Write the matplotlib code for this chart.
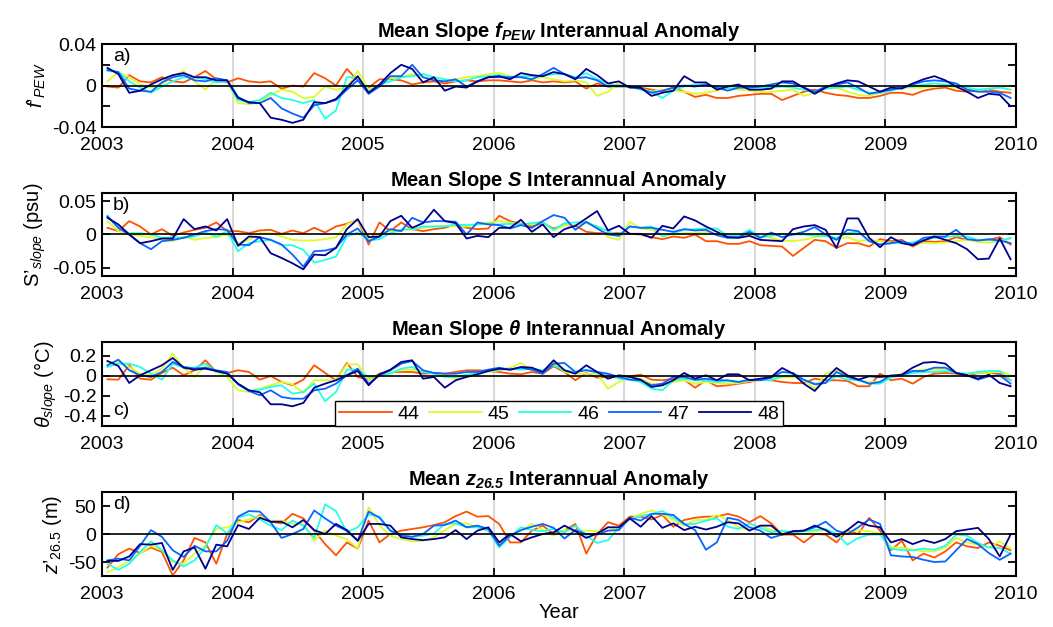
import numpy as np
import matplotlib as mpl
mpl.use('Agg')
import matplotlib.pyplot as plt

mpl.rcParams['font.family'] = ['Liberation Sans', 'DejaVu Sans']
mpl.rcParams['font.size'] = 14
mpl.rcParams['mathtext.fontset'] = 'custom'
mpl.rcParams['mathtext.rm'] = 'Liberation Sans'
mpl.rcParams['mathtext.it'] = 'Liberation Sans:italic'
mpl.rcParams['mathtext.bf'] = 'Liberation Sans:bold'
mpl.rcParams['mathtext.bfit'] = 'Liberation Sans:bold:italic'

# monthly time axis, Jan 2003 - Dec 2009 (mid-month)
months = 2003 + (np.arange(84) + 0.5) / 12.0

series_names = ['44', '45', '46', '47', '48']
colors = ['#FF5200', '#DDFA2A', '#22FFE6', '#0A64FF', '#00008C']

# ---- a) f_PEW ----
fpew_44 = [-0.001,-0.002,0.010,0.004,0.003,0.008,0.004,0.003,0.008,0.014,0.006,0.003,
           0.007,0.004,0.003,0.004,-0.003,0.000,-0.001,0.012,0.007,0.000,0.016,0.005,
           -0.002,0.006,0.006,0.005,0.001,0.003,0.004,0.002,0.004,0.005,0.004,0.005,
           0.005,0.004,0.003,0.005,0.003,0.004,0.003,0.004,-0.003,0.002,-0.001,-0.001,
           -0.001,-0.002,-0.004,-0.006,-0.002,-0.006,-0.011,-0.009,-0.012,-0.012,-0.010,-0.009,
           -0.008,-0.008,-0.014,-0.010,-0.006,-0.004,-0.007,-0.009,-0.010,-0.012,-0.012,-0.010,
           -0.007,-0.007,-0.009,-0.005,-0.003,-0.002,-0.005,-0.006,-0.005,-0.004,-0.006,-0.007]
fpew_45 = [0.004,0.013,0.008,0.001,-0.002,0.001,0.009,0.014,0.004,-0.004,0.006,0.004,
           -0.017,-0.018,-0.016,-0.009,-0.004,-0.006,-0.012,-0.011,-0.001,-0.004,-0.002,0.014,
           -0.004,0.001,0.007,0.008,0.011,0.008,0.006,0.004,0.006,0.008,0.009,0.011,
           0.012,0.009,0.008,0.006,0.008,0.006,0.004,0.005,0.003,-0.010,-0.006,0.003,
           -0.002,-0.003,-0.006,-0.004,-0.005,-0.006,-0.008,-0.007,-0.005,-0.002,-0.004,-0.005,
           -0.006,-0.006,-0.005,-0.004,-0.010,-0.007,-0.003,-0.002,-0.006,-0.009,-0.010,-0.007,
           -0.005,-0.002,-0.002,-0.002,-0.001,0.000,-0.002,-0.004,-0.005,-0.003,-0.002,0.000]
fpew_46 = [0.014,0.013,0.004,-0.002,-0.007,-0.001,0.004,0.008,0.008,0.006,0.003,0.004,
           -0.014,-0.016,-0.014,-0.007,-0.012,-0.014,-0.017,-0.014,-0.032,-0.024,0.008,0.008,
           -0.006,0.001,0.004,0.008,0.009,0.011,0.008,0.006,0.004,0.005,0.008,0.009,
           0.010,0.008,0.009,0.009,0.009,0.011,0.011,0.008,0.012,0.006,0.002,-0.001,
           -0.001,-0.004,-0.006,-0.012,-0.005,-0.001,0.001,0.001,-0.001,-0.003,-0.002,-0.002,
           -0.002,-0.002,-0.001,-0.002,-0.004,-0.006,-0.003,-0.002,-0.001,-0.004,-0.007,-0.007,
           -0.005,-0.002,-0.001,0.001,0.002,0.001,0.000,-0.002,-0.004,-0.003,-0.002,-0.004]
fpew_47 = [0.015,0.013,-0.003,-0.005,-0.006,0.003,0.008,0.010,0.005,0.004,0.007,0.005,
           -0.011,-0.017,-0.017,-0.012,-0.022,-0.027,-0.031,-0.019,-0.017,-0.014,-0.004,0.005,
           -0.008,-0.001,0.009,0.009,0.020,0.008,0.005,0.004,0.006,-0.001,0.004,0.008,
           0.008,0.008,0.008,0.006,0.011,0.017,0.011,0.007,0.008,0.005,-0.001,0.000,
           -0.001,-0.003,-0.007,-0.005,-0.002,0.000,-0.001,0.001,-0.002,-0.005,-0.002,-0.002,
           -0.001,0.001,0.003,0.002,-0.002,-0.006,-0.001,0.001,0.003,-0.002,-0.008,-0.006,
           -0.004,-0.002,0.001,0.004,0.005,0.004,0.002,-0.004,-0.006,-0.006,-0.007,-0.012]
fpew_48 = [0.017,0.011,-0.007,-0.005,0.001,0.006,0.010,0.012,0.008,0.008,0.005,0.005,
           -0.012,-0.016,-0.017,-0.031,-0.033,-0.036,-0.033,-0.016,-0.017,-0.013,-0.002,0.009,
           -0.007,0.001,0.012,0.020,0.016,0.003,0.008,-0.005,-0.001,-0.002,0.004,0.008,
           0.009,0.006,0.012,0.010,0.009,0.013,0.011,0.006,0.016,0.010,0.002,0.004,
           -0.002,-0.002,-0.010,-0.007,-0.005,0.009,0.003,0.003,-0.004,-0.001,0.001,-0.004,
           -0.004,-0.003,0.004,0.004,-0.002,-0.008,-0.002,0.002,0.005,0.004,-0.001,-0.006,
           -0.002,-0.003,0.002,0.006,0.009,0.005,-0.001,-0.006,-0.012,-0.008,-0.009,-0.020]

# ---- b) S_slope (psu) ----
sal_44 = [0.010,0.005,0.020,0.012,0.000,0.008,-0.002,0.003,0.007,0.010,0.018,0.005,
          0.005,0.002,0.006,0.007,0.001,0.006,0.002,0.010,0.003,0.012,0.016,0.022,
          -0.015,0.018,0.005,0.018,0.008,0.005,0.008,0.010,0.015,0.010,0.008,0.009,
          0.028,0.020,0.016,0.012,0.017,0.009,0.014,0.013,0.004,0.002,0.002,0.002,
          0.001,0.000,-0.004,-0.007,-0.003,-0.005,0.000,-0.010,-0.010,-0.014,-0.014,-0.010,
          -0.016,-0.017,-0.018,-0.032,-0.020,-0.008,-0.010,-0.020,-0.013,-0.013,-0.018,-0.007,
          -0.010,-0.008,-0.018,-0.010,-0.011,-0.010,-0.004,-0.008,-0.009,-0.008,-0.004,-0.015]
sal_45 = [0.020,0.005,0.000,-0.002,-0.004,-0.008,-0.010,-0.003,-0.008,-0.005,-0.004,0.000,
          -0.013,-0.008,0.002,0.002,-0.003,-0.008,-0.009,-0.009,-0.007,-0.004,0.015,0.022,
          -0.008,0.002,0.005,0.007,0.008,0.010,0.012,0.013,0.012,0.012,0.015,0.018,
          0.020,0.018,0.015,0.015,0.018,0.006,0.014,0.014,0.017,0.012,-0.004,-0.008,
          0.019,0.009,0.007,0.000,0.000,0.002,0.002,0.004,0.000,-0.003,-0.005,0.000,
          -0.003,-0.005,-0.009,-0.010,-0.008,-0.004,-0.002,-0.007,-0.004,-0.010,-0.008,-0.010,
          -0.012,-0.013,-0.013,-0.013,-0.013,-0.012,-0.010,-0.008,-0.011,-0.012,-0.010,-0.006]
sal_46 = [0.028,0.010,0.002,0.002,0.000,-0.005,-0.004,-0.005,-0.003,0.003,-0.003,0.005,
          -0.025,-0.013,-0.010,-0.008,-0.016,-0.016,-0.023,-0.042,-0.038,-0.033,-0.003,0.003,
          -0.009,-0.007,0.002,0.007,0.008,0.012,0.012,0.012,0.015,0.014,0.015,0.016,
          0.015,0.016,0.015,0.017,0.019,0.007,0.017,0.018,0.018,0.012,0.005,-0.001,
          0.012,0.010,0.012,-0.003,0.002,0.007,0.008,0.009,0.009,-0.002,-0.002,0.007,
          -0.004,-0.002,0.001,0.000,0.000,-0.002,-0.002,-0.005,0.002,0.004,-0.010,-0.015,
          -0.013,-0.013,-0.012,-0.008,-0.005,-0.004,-0.002,-0.003,-0.008,-0.008,-0.010,-0.005]
sal_47 = [0.027,0.010,0.000,-0.013,-0.022,-0.010,-0.008,-0.005,0.000,0.005,0.008,0.007,
          -0.015,-0.016,-0.004,-0.008,-0.015,-0.030,-0.048,-0.025,-0.024,-0.020,0.000,0.009,
          -0.010,-0.003,0.008,0.005,0.025,0.018,0.020,0.020,0.019,0.000,0.018,0.015,
          0.014,0.009,0.014,0.010,0.020,0.029,0.025,0.007,0.019,0.009,0.000,-0.002,
          0.012,0.010,0.010,0.007,0.004,0.008,0.006,0.007,-0.001,-0.005,-0.004,0.004,
          -0.005,0.003,-0.004,0.000,0.004,0.011,0.000,-0.008,0.007,0.005,-0.010,-0.015,
          -0.013,-0.010,-0.015,-0.005,-0.003,-0.003,0.007,-0.007,-0.009,-0.007,-0.009,-0.013]
sal_48 = [0.025,0.015,0.000,-0.013,-0.010,-0.006,-0.006,0.023,0.008,0.012,0.006,0.023,
          -0.017,-0.003,-0.004,-0.028,-0.035,-0.043,-0.052,-0.030,-0.031,-0.020,0.008,0.023,
          -0.004,-0.003,0.020,0.028,0.010,0.017,0.037,0.020,0.017,-0.006,-0.002,-0.004,
          0.010,0.010,0.022,0.004,0.015,-0.004,0.008,0.013,0.024,0.035,0.006,0.013,
          0.001,0.001,-0.005,0.013,0.009,0.027,0.021,0.012,0.004,-0.004,-0.005,-0.002,
          -0.008,-0.009,-0.010,0.008,0.012,0.014,0.007,-0.020,0.024,0.024,-0.005,-0.019,
          -0.004,-0.013,-0.016,-0.009,-0.003,-0.008,-0.013,-0.022,-0.037,-0.036,-0.006,-0.037]

# ---- c) theta_slope (degC) ----
theta_44 = [-0.033,-0.037,0.107,-0.027,-0.037,0.030,0.083,0.007,0.057,0.157,0.040,0.030,
            0.057,0.040,-0.037,0.000,-0.060,-0.093,-0.037,0.107,0.030,-0.043,0.130,-0.010,
            -0.037,0.023,0.040,0.040,0.040,0.023,0.030,0.023,0.040,0.057,0.057,0.050,
            0.040,0.023,0.017,0.040,0.023,0.097,0.040,-0.043,0.030,-0.017,-0.010,-0.003,
            -0.003,0.013,-0.037,-0.043,-0.027,-0.037,-0.117,-0.043,-0.103,-0.093,-0.077,-0.060,
            -0.037,-0.043,-0.060,-0.070,-0.070,-0.027,-0.043,-0.043,-0.050,-0.103,-0.103,0.023,
            -0.043,-0.027,-0.077,-0.010,0.023,0.030,0.023,-0.003,0.030,0.030,0.023,-0.043]
theta_45 = [0.140,0.140,0.090,0.023,0.007,0.073,0.223,0.083,-0.010,0.097,0.040,-0.010,
            -0.143,-0.160,-0.127,-0.093,-0.060,-0.083,-0.170,-0.043,-0.043,-0.043,0.117,0.117,
            -0.037,-0.003,0.040,0.057,0.063,0.050,0.023,0.007,-0.027,0.007,0.030,0.040,
            0.057,0.083,0.130,0.057,0.040,0.140,0.040,0.023,0.023,0.023,-0.127,-0.060,
            -0.010,-0.027,-0.077,-0.093,-0.060,-0.043,-0.077,-0.060,-0.070,-0.077,-0.070,-0.050,
            -0.043,-0.027,-0.017,-0.010,-0.043,-0.127,0.023,0.057,-0.010,-0.043,-0.060,-0.060,
            -0.010,0.023,0.050,0.063,0.063,0.073,0.030,0.023,0.030,0.030,0.050,0.007]
theta_46 = [0.090,0.123,0.123,0.090,0.023,-0.037,0.123,0.083,0.083,0.123,0.040,0.030,
            -0.083,-0.150,-0.137,-0.110,-0.093,-0.177,-0.160,-0.077,-0.253,-0.160,0.063,0.063,
            -0.010,0.007,0.023,0.073,0.090,0.040,0.023,-0.010,-0.010,0.013,0.030,0.050,
            0.063,0.073,0.063,0.073,0.057,0.107,0.057,0.040,0.063,0.030,0.007,-0.027,
            -0.037,-0.060,-0.127,-0.143,-0.043,-0.027,-0.043,-0.043,-0.060,-0.050,-0.060,-0.043,
            -0.037,-0.043,-0.003,0.007,-0.043,-0.077,-0.070,-0.003,-0.037,-0.043,-0.077,-0.077,
            -0.017,0.007,0.030,0.040,0.040,0.050,0.030,0.023,0.040,0.050,0.050,-0.043]
theta_47 = [0.107,0.163,0.057,0.007,-0.010,0.040,0.140,0.090,0.073,0.083,0.057,0.040,
            -0.083,-0.150,-0.193,-0.143,-0.210,-0.227,-0.227,-0.143,-0.127,-0.077,0.007,0.073,
            -0.077,0.007,0.057,0.123,0.150,0.057,0.030,0.023,0.023,0.040,0.040,0.063,
            0.083,0.063,0.083,0.063,0.023,0.123,0.130,0.040,0.057,0.040,0.023,-0.010,
            -0.037,-0.043,-0.093,-0.077,-0.010,-0.010,-0.037,-0.027,-0.043,-0.043,-0.060,-0.037,
            -0.043,-0.017,0.040,0.030,-0.037,-0.083,-0.070,0.040,-0.010,-0.037,-0.077,-0.060,
            0.007,0.007,0.050,0.050,0.083,0.083,0.030,0.007,-0.037,-0.003,0.007,-0.077]
theta_48 = [0.150,0.100,-0.070,0.007,0.057,0.107,0.180,0.083,0.063,0.073,0.050,0.023,
            -0.077,-0.143,-0.163,-0.283,-0.283,-0.303,-0.270,-0.117,-0.077,-0.043,0.007,0.050,
            -0.093,0.017,0.063,0.140,0.157,-0.027,-0.010,-0.117,-0.043,-0.010,0.017,0.050,
            0.073,0.063,0.090,0.083,0.040,0.157,0.057,0.023,0.107,0.040,-0.027,0.007,
            -0.010,-0.037,-0.110,-0.093,-0.043,0.030,-0.027,0.007,-0.043,0.017,0.017,-0.043,
            -0.027,-0.010,0.080,0.023,-0.077,-0.150,-0.027,0.080,0.007,-0.037,-0.003,-0.010,
            0.000,0.013,0.083,0.133,0.140,0.123,0.030,0.007,-0.027,0.013,-0.070,-0.103]

# ---- d) z26.5 (m) ----
z_44 = [-60,-36,-26,-34,-24,-32,-74,-47,-7,-15,-53,0,
        25,21,34,22,19,36,28,6,-18,-38,-15,-26,
        24,-15,0,6,9,12,16,21,32,40,31,32,
        18,-15,-15,6,15,0,6,18,-35,0,21,15,
        31,31,26,34,13,25,29,31,31,36,31,21,
        32,19,-1,-1,-15,0,-1,-15,6,0,29,6,
        -29,-12,-47,-35,-42,-31,-15,-22,-25,-15,-21,-29]
z_45 = [-68,-59,-47,-35,-21,-29,-50,-53,-35,-21,9,12,
        21,26,32,24,24,18,19,-12,6,-3,-9,-26,
        48,15,-3,-9,-13,-12,-6,7,18,19,12,6,
        -18,-3,6,18,7,-3,7,6,6,5,6,12,
        26,36,42,35,25,15,25,25,34,25,12,7,
        15,7,3,3,0,5,7,0,3,7,5,1,
        -24,-24,-28,-31,-31,-24,-7,-15,-19,-24,-13,-26]
z_46 = [-53,-64,-53,-32,-13,-29,-47,-58,-47,-24,16,1,
        29,35,26,15,7,24,15,-7,53,41,3,12,
        35,31,6,-1,-5,-3,1,18,19,12,12,6,
        -24,-5,12,7,5,9,3,15,-3,-16,-11,11,
        26,32,36,41,29,18,18,24,28,13,9,19,
        11,3,6,3,5,7,9,0,-19,-7,-1,-1,
        -26,-29,-29,-26,-28,-21,-1,-3,-16,-24,-25,-35]
z_47 = [-47,-44,-47,-21,7,-5,-29,-41,-21,-31,-31,-12,
        31,41,40,21,-7,0,9,42,28,15,6,-12,
        40,29,6,-3,-5,0,15,16,24,12,15,9,
        -21,-3,7,13,18,11,-8,7,0,-1,6,7,
        29,24,36,36,34,18,7,-28,-15,29,25,12,
        6,-7,-1,5,6,12,22,6,0,12,26,18,
        -38,-40,-41,-46,-50,-49,-29,-9,-18,-34,-46,-35]
z_48 = [-48,-48,-40,-18,-19,-16,-64,-31,-24,-62,-19,-22,
        16,9,29,22,22,12,25,7,0,18,7,-12,
        18,18,15,-6,-9,-11,-9,-6,7,-9,6,12,
        -15,0,-13,-6,0,3,15,5,-7,1,12,12,
        28,13,32,11,19,7,13,8,13,21,19,6,
        15,15,-1,5,6,15,7,-5,7,22,15,12,
        -15,-9,-18,-11,-16,-9,5,8,11,-9,-40,-1]

panels = [
    ([fpew_44, fpew_45, fpew_46, fpew_47, fpew_48],
     r'Mean Slope $\mathbfit{f}_{\mathbfit{PEW}}$ Interannual Anomaly',
     r"$f$’$_{PEW}$", 'a)', (-0.04, 0.04),
     [-0.04, -0.02, 0, 0.02, 0.04], ['-0.04', '', '0', '', '0.04']),
    ([sal_44, sal_45, sal_46, sal_47, sal_48],
     r'Mean Slope $\mathbfit{S}$ Interannual Anomaly',
     r"S’$_{slope}$ (psu)", 'b)', (-0.062, 0.062),
     [-0.05, 0, 0.05], ['-0.05', '0', '0.05']),
    ([theta_44, theta_45, theta_46, theta_47, theta_48],
     r'Mean Slope $\mathbfit{\theta}$ Interannual Anomaly',
     r'$\theta_{slope}$ (°C)', 'c)', (-0.5, 0.34),
     [-0.4, -0.2, 0, 0.2], ['-0.4', '-0.2', '0', '0.2']),
    ([z_44, z_45, z_46, z_47, z_48],
     r'Mean $\mathbfit{z}_{\mathbfit{26.5}}$ Interannual Anomaly',
     r"$z$’$_{26.5}$ (m)", 'd)', (-75, 75),
     [-50, 0, 50], ['-50', '0', '50']),
]

fig = plt.figure(figsize=(10.53, 6.27), dpi=100)
bottoms = [0.7974, 0.5598, 0.3206, 0.0813]
heights = [0.1324, 0.1324, 0.134, 0.134]
years = np.arange(2003, 2011)

for i, (data, title, ylab, letter, ylim, yt, ytl) in enumerate(panels):
    ax = fig.add_axes([0.0969, bottoms[i], 0.868, heights[i]])
    for x in years[1:-1]:
        ax.axvline(x, color='#d9d9d9', lw=1.5, zorder=0)
    lines = []
    for k in range(5):
        l, = ax.plot(months, data[k], color=colors[k], lw=1.3, label=series_names[k])
        lines.append(l)
    ax.axhline(0, color='k', lw=1.2, zorder=3)
    ax.set_xlim(2003, 2010)
    ax.set_ylim(ylim)
    ax.set_xticks(years)
    ax.set_yticks(yt)
    ax.set_yticklabels(ytl)
    ax.tick_params(direction='in', top=True, right=True, length=6, width=1.3,
                   labelsize=14, pad=4)
    ax.tick_params(axis='x', pad=7)
    for s in ax.spines.values():
        s.set_linewidth(1.5)
    ax.set_title(title, fontsize=14.5, fontweight='bold', pad=5)
    ax.set_ylabel(ylab, fontsize=14.5, labelpad=3)
    if letter == 'c)':
        ax.text(0.012, 0.08, letter, transform=ax.transAxes, fontsize=14, va='bottom')
        ax.legend(lines, series_names, loc='lower center', bbox_to_anchor=(0.5, -0.005),
                  ncol=5, fontsize=14, frameon=True, fancybox=False, edgecolor='k',
                  framealpha=1, handlelength=2.7, columnspacing=0.5, borderpad=0.2,
                  handletextpad=0.3, borderaxespad=0)
    else:
        ax.text(0.012, 0.95, letter, transform=ax.transAxes, fontsize=14, va='top')
    if i == 3:
        ax.set_xlabel('Year', fontsize=14.5, labelpad=0)

fig.savefig('out.png', dpi=100)
